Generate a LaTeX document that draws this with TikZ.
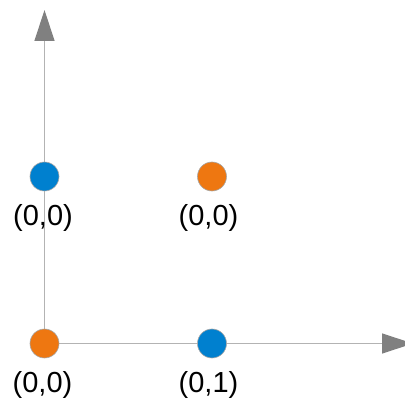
\documentclass[tikz,border=0pt]{standalone}
\usepackage{fontspec}
\setmainfont{Liberation Sans}
\usetikzlibrary{arrows.meta}
\definecolor{axisgray}{HTML}{B3B3B3}
\definecolor{tipgray}{HTML}{808080}
\definecolor{dotblue}{HTML}{0080CF}
\definecolor{dotorange}{HTML}{EE7711}
\begin{document}
\begin{tikzpicture}[x=1pt,y=-1pt,
  axis/.style={draw=axisgray,line width=1.3pt,-{Triangle[length=31pt,width=20pt,color=tipgray,fill=tipgray]}},
  dot/.style={circle,minimum size=29pt,inner sep=0pt,draw=gray!70,line width=0.6pt},
  lbl/.style={anchor=base,inner sep=0pt,font=\fontsize{29}{32}\selectfont}]
\path[use as bounding box] (0,0) rectangle (405,401);
\clip (0,0) rectangle (405,401);
\coordinate (o) at (44.5,343.5);
\coordinate (ytip) at (44.5,10);
\coordinate (xtip) at (413,343.5);
\draw[axis] (o) -- (ytip);
\draw[axis] (o) -- (xtip);
\node[dot,fill=dotblue] (b1) at (44.5,176.5) {};
\node[dot,fill=dotorange] (o1) at (212,176.5) {};
\node[dot,fill=dotorange] (o2) at (44.5,343.5) {};
\node[dot,fill=dotblue] (b2) at (212,343.5) {};
\node[lbl] (l1) at (43,225.5) {(0,0)};
\node[lbl] (l2) at (208.5,225.5) {(0,0)};
\node[lbl] (l3) at (42.5,392.5) {(0,0)};
\node[lbl] (l4) at (208.5,392.5) {(0,1)};
\end{tikzpicture}
\end{document}
